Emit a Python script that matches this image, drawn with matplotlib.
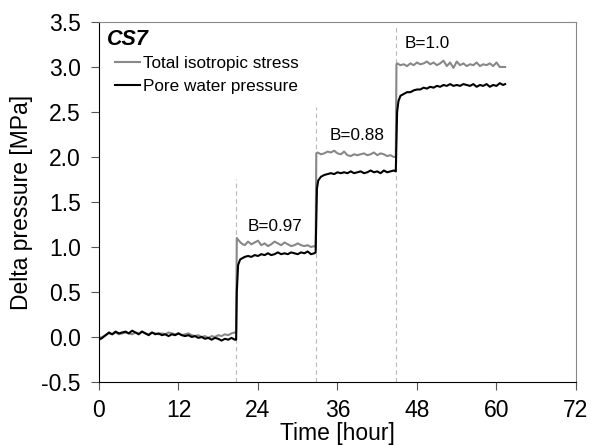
import numpy as np
import matplotlib.pyplot as plt

plt.rcParams['font.family'] = ['Liberation Sans', 'DejaVu Sans']

# time [hour] and delta pressure [MPa]
t_total = [0.0, 0.5, 1.0, 1.5, 2.0, 2.5, 3.0, 3.5, 4.0, 4.5, 5.0, 5.5, 6.0, 6.5,
           7.0, 7.5, 8.0, 8.5, 9.0, 9.5, 10.0, 10.5, 11.0, 11.5, 12.0, 12.5, 13.0,
           13.5, 14.0, 14.5, 15.0, 15.5, 16.0, 16.5, 17.0, 17.5, 18.0, 18.5, 19.0,
           19.5, 20.0, 20.5, 20.7,
           20.8, 21.0, 21.5, 22.0, 22.5, 23.0, 23.5, 24.0, 24.5, 25.0, 25.5, 26.0,
           26.5, 27.0, 27.5, 28.0, 28.5, 29.0, 29.5, 30.0, 30.5, 31.0, 31.5, 32.0,
           32.5, 32.7,
           32.8, 33.0, 33.5, 34.0, 34.5, 35.0, 35.5, 36.0, 36.5, 37.0, 37.5, 38.0,
           38.5, 39.0, 39.5, 40.0, 40.5, 41.0, 41.5, 42.0, 42.5, 43.0, 43.5, 44.0,
           44.5, 44.8,
           44.9, 45.0, 45.5, 46.0, 46.5, 47.0, 47.5, 48.0, 48.5, 49.0, 49.5, 50.0,
           50.5, 51.0, 51.5, 52.0, 52.5, 53.0, 53.5, 54.0, 54.5, 55.0, 55.5, 56.0,
           56.5, 57.0, 57.5, 58.0, 58.5, 59.0, 59.5, 60.0, 60.5, 61.0, 61.3]
total = [-0.01, 0.0, 0.02, 0.04, 0.03, 0.05, 0.03, 0.04, 0.05, 0.04, 0.03, 0.05,
         0.04, 0.06, 0.04, 0.03, 0.05, 0.04, 0.03, 0.04, 0.03, 0.05, 0.04, 0.03,
         0.04, 0.02, 0.03, 0.04, 0.02, 0.01, 0.02, 0.0, 0.01, -0.01, 0.01, 0.0,
         0.02, 0.01, 0.03, 0.02, 0.04, 0.05, 0.06,
         1.10, 1.08, 1.04, 1.02, 1.06, 1.03, 1.05, 1.07, 1.02, 1.04, 1.01, 1.03,
         1.06, 1.04, 1.02, 1.05, 1.03, 1.01, 1.02, 1.04, 1.02, 1.01, 1.02, 1.00,
         1.01, 1.00,
         2.04, 2.05, 2.03, 2.04, 2.06, 2.05, 2.07, 2.04, 2.03, 2.06, 2.02, 2.01,
         2.03, 2.02, 2.03, 2.04, 2.02, 2.03, 2.05, 2.02, 2.04, 2.03, 2.01, 2.02,
         2.00, 2.00,
         3.03, 3.04, 3.02, 3.03, 3.01, 3.04, 3.02, 3.05, 3.03, 3.04, 3.06, 3.03,
         3.05, 3.02, 3.04, 3.07, 3.01, 3.05, 2.99, 3.06, 3.02, 3.04, 3.01, 3.03,
         3.02, 3.05, 3.01, 3.03, 3.02, 3.04, 3.01, 3.05, 3.00, 3.00, 3.00]

t_pore = [0.0, 0.5, 1.0, 1.5, 2.0, 2.5, 3.0, 3.5, 4.0, 4.5, 5.0, 5.5, 6.0, 6.5,
          7.0, 7.5, 8.0, 8.5, 9.0, 9.5, 10.0, 10.5, 11.0, 11.5, 12.0, 12.5, 13.0,
          13.5, 14.0, 14.5, 15.0, 15.5, 16.0, 16.5, 17.0, 17.5, 18.0, 18.5, 19.0,
          19.5, 20.0, 20.5, 20.7,
          20.8, 21.0, 21.3, 21.5, 22.0, 22.5, 23.0, 23.5, 24.0, 24.5, 25.0, 25.5,
          26.0, 26.5, 27.0, 27.5, 28.0, 28.5, 29.0, 29.5, 30.0, 30.5, 31.0, 31.5,
          32.0, 32.5, 32.7,
          32.8, 32.9, 33.1, 33.5, 34.0, 34.5, 35.0, 35.5, 36.0, 36.5, 37.0, 37.5,
          38.0, 38.5, 39.0, 39.5, 40.0, 40.5, 41.0, 41.5, 42.0, 42.5, 43.0, 43.5,
          44.0, 44.5, 44.8,
          44.9, 45.0, 45.2, 45.5, 46.0, 46.5, 47.0, 47.5, 48.0, 48.5, 49.0, 49.5,
          50.0, 50.5, 51.0, 51.5, 52.0, 52.5, 53.0, 53.5, 54.0, 54.5, 55.0, 55.5,
          56.0, 56.5, 57.0, 57.5, 58.0, 58.5, 59.0, 59.5, 60.0, 60.5, 61.0, 61.3]
pore = [-0.03, -0.01, 0.02, 0.05, 0.03, 0.06, 0.04, 0.05, 0.06, 0.04, 0.07, 0.05,
        0.03, 0.06, 0.04, 0.02, 0.05, 0.03, 0.04, 0.02, 0.03, 0.01, 0.03, 0.02,
        0.04, 0.02, 0.01, 0.02, 0.0, 0.01, -0.01, 0.0, -0.02, -0.01, -0.03, -0.01,
        -0.02, -0.04, -0.02, -0.03, -0.01, -0.03, -0.03,
        0.50, 0.80, 0.86, 0.87, 0.89, 0.90, 0.89, 0.91, 0.90, 0.92, 0.91, 0.93,
        0.91, 0.92, 0.94, 0.92, 0.93, 0.92, 0.94, 0.93, 0.92, 0.94, 0.93, 0.95,
        0.92, 0.93, 0.94,
        1.30, 1.65, 1.74, 1.78, 1.80, 1.81, 1.82, 1.81, 1.83, 1.82, 1.83, 1.82,
        1.84, 1.82, 1.83, 1.84, 1.82, 1.83, 1.85, 1.83, 1.84, 1.82, 1.85, 1.83,
        1.84, 1.85, 1.84,
        2.20, 2.50, 2.62, 2.68, 2.70, 2.72, 2.72, 2.74, 2.75, 2.75, 2.77, 2.76,
        2.78, 2.77, 2.79, 2.78, 2.80, 2.79, 2.81, 2.79, 2.80, 2.79, 2.81, 2.80,
        2.79, 2.81, 2.78, 2.80, 2.79, 2.81, 2.78, 2.80, 2.79, 2.82, 2.80, 2.81]

# load steps (dashed markers) and B values
step_times = [20.7, 32.8, 44.9]
step_tops = [1.75, 2.55, 3.45]
b_labels = ['B=0.97', 'B=0.88', 'B=1.0']
b_pos = [(26.5, 1.23), (38.9, 2.24), (49.5, 3.26)]

fig = plt.figure(figsize=(5.91, 4.45), dpi=100)
ax = fig.add_axes([0.1675, 0.1416, 0.8071, 0.809])

for t, top in zip(step_times, step_tops):
    ax.plot([t, t], [-0.5, top], color='#b8b8b8', linestyle=(0, (4, 3)), linewidth=0.8)

ax.plot(t_total, total, color='#888888', linewidth=1.5, label='Total isotropic stress')
ax.plot(t_pore, pore, color='black', linewidth=1.5, label='Pore water pressure')

for lab, (x, y) in zip(b_labels, b_pos):
    ax.text(x, y, lab, fontsize=12.3, ha='center', va='center')

ax.text(1.2, 3.3, 'CS7', fontsize=15.5, fontweight='bold', fontstyle='italic',
        ha='left', va='center')

ax.legend(loc='upper left', bbox_to_anchor=(0.033, 0.905), frameon=False, fontsize=12.3,
          handlelength=1.5, handletextpad=0.15, labelspacing=0.45, borderaxespad=0,
          borderpad=0)

ax.set_xlim(0, 72)
ax.set_ylim(-0.5, 3.5)
ax.set_xticks(np.arange(0, 73, 12))
ax.set_yticks(np.arange(-0.5, 3.51, 0.5))
ax.set_yticklabels(['%.1f' % v for v in np.arange(-0.5, 3.51, 0.5)])
ax.tick_params(axis='both', direction='out', length=6, width=0.8, labelsize=16.5,
               color='#555555')
ax.tick_params(axis='x', pad=6)
ax.tick_params(axis='y', pad=7)

for s in ['top', 'right']:
    ax.spines[s].set_color('#888888')
for s in ['left', 'bottom']:
    ax.spines[s].set_color('black')

ax.set_xlabel('Time [hour]', fontsize=16.5, labelpad=0)
ax.set_ylabel('Delta pressure [MPa]', fontsize=16.5, labelpad=6)

fig.savefig('out.png', dpi=100)
